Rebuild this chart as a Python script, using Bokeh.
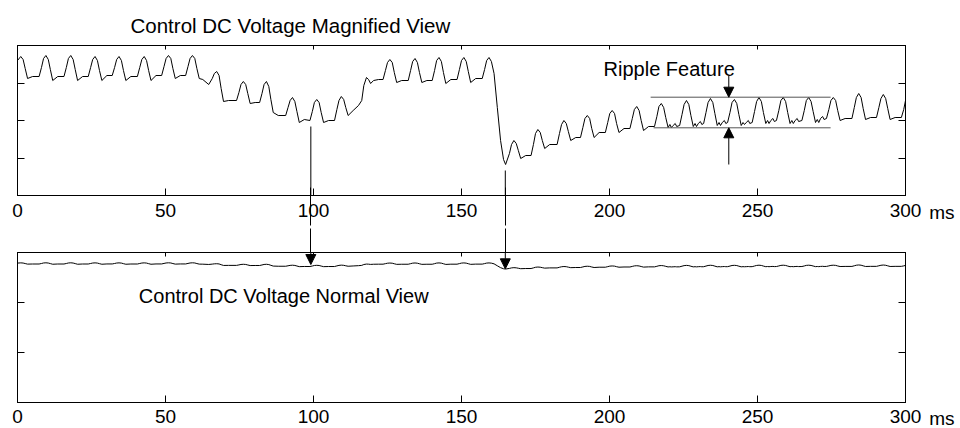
import numpy as np
from bokeh.plotting import figure
from bokeh.layouts import column
from bokeh.models import (Range1d, LinearAxis, FixedTicker, Arrow, NormalHead,
                          Label, ColumnDataSource, CustomJSTickFormatter)
from bokeh.embed import file_html
from bokeh.resources import INLINE

# ---------------- data ----------------
# time (ms) and control DC voltage (V) of the magnified trace, one ripple cycle per line
t_ms = [
    0.0, 1.1, 1.9, 2.6, 3.4, 5.1,
    7.3, 8.1, 8.8, 9.6, 10.4, 11.1, 11.9, 13.6,
    15.7, 16.5, 17.2, 18.0, 18.8, 19.5, 20.3, 22.0,
    23.9, 24.7, 25.4, 26.2, 27.0, 27.7, 28.5, 30.2,
    32.0, 32.8, 33.5, 34.3, 35.1, 35.8, 36.6, 38.3,
    40.5, 41.3, 42.0, 42.8, 43.6, 44.3, 45.1, 46.8,
    48.7, 49.5, 50.2, 51.0, 51.8, 52.5, 53.3, 55.0,
    56.8, 57.6, 58.3, 59.1, 59.9, 60.6, 61.4, 62.6, 64.6,
    65.8, 66.5, 67.3, 68.1, 68.8, 69.6, 71.3,
    74.0, 74.8, 75.5, 76.3, 77.1, 77.8, 78.6, 80.3,
    81.8, 82.6, 83.3, 84.1, 84.9, 85.6, 86.4, 88.1,
    90.6, 91.4, 92.1, 92.9, 93.7, 94.4, 95.2, 96.9,
    98.8, 99.6, 100.3, 101.1, 101.9, 102.6, 103.4, 105.1,
    107.1, 107.9, 108.6, 109.4, 110.2, 110.9, 111.7, 113.4, 115.2,
    116.3, 117.0, 117.9, 118.6, 119.3, 120.3, 122.0,
    123.5, 124.3, 125.0, 125.8, 126.6, 127.3, 128.1, 129.8,
    132.0, 132.8, 133.5, 134.3, 135.1, 135.8, 136.6, 138.3,
    140.1, 140.9, 141.6, 142.4, 143.2, 143.9, 144.7, 146.4,
    148.5, 149.3, 150.0, 150.8, 151.6, 152.3, 153.1, 154.8,
    157.0, 157.8, 158.5, 159.3, 160.1, 161.0, 162.1, 163.2, 164.2, 164.9,
    166.2, 166.9, 167.7, 168.5, 169.2, 170.0, 171.7,
    173.5, 174.3, 175.0, 175.8, 176.6, 177.3, 178.1, 179.8,
    182.3, 183.1, 183.8, 184.6, 185.4, 186.1, 186.9, 188.6,
    190.2, 191.0, 191.7, 192.5, 193.3, 194.0, 194.8, 196.5,
    198.6, 199.4, 200.1, 200.9, 201.7, 202.4, 203.2, 204.9,
    206.9, 207.7, 208.4, 209.2, 210.0, 210.7, 211.5, 213.2,
    215.2, 216.0, 216.7, 217.5, 218.3, 219.0, 219.8, 220.4, 220.9, 221.5, 222.2, 222.7,
    223.7, 224.5, 225.2, 226.0, 226.8, 227.5, 228.3, 228.9, 229.4, 230.0, 230.7, 231.2,
    231.8, 232.6, 233.3, 234.1, 234.9, 235.6, 236.4, 237.0, 237.5, 238.1, 238.8, 239.3,
    239.9, 240.7, 241.4, 242.2, 243.0, 243.7, 244.5, 245.1, 245.6, 246.2, 246.9, 247.4,
    248.2, 249.0, 249.7, 250.5, 251.3, 252.0, 252.8, 253.4, 253.9, 254.5, 255.2, 255.7,
    256.4, 257.2, 257.9, 258.7, 259.5, 260.2, 261.0, 261.6, 262.1, 262.7, 263.4, 263.9,
    265.0, 265.8, 266.5, 267.3, 268.1, 268.8, 269.6, 270.2, 270.7, 271.3, 272.0, 272.5,
    273.3, 274.1, 274.8, 275.6, 276.4, 277.1, 277.9, 279.6,
    281.9, 282.7, 283.4, 284.2, 285.0, 285.7, 286.5, 288.2,
    290.2, 291.0, 291.7, 292.5, 293.3, 294.0, 294.8, 296.5,
    298.6, 299.4, 300.0,
]
v_dc = [
    28.35, 28.39, 28.36, 28.27, 28.17, 28.19,
    28.19, 28.28, 28.37, 28.40, 28.36, 28.26, 28.15, 28.19,
    28.19, 28.28, 28.37, 28.40, 28.36, 28.26, 28.15, 28.19,
    28.19, 28.28, 28.36, 28.39, 28.35, 28.25, 28.15, 28.20,
    28.20, 28.28, 28.36, 28.39, 28.35, 28.25, 28.15, 28.19,
    28.19, 28.28, 28.36, 28.39, 28.35, 28.25, 28.15, 28.20,
    28.20, 28.29, 28.37, 28.40, 28.37, 28.27, 28.17, 28.20,
    28.20, 28.29, 28.37, 28.40, 28.37, 28.27, 28.17, 28.16, 28.11,
    28.17, 28.22, 28.24, 28.20, 28.07, 27.94, 27.95,
    27.95, 28.03, 28.11, 28.14, 28.11, 28.02, 27.92, 27.93,
    27.93, 28.02, 28.11, 28.14, 28.09, 27.96, 27.83, 27.80,
    27.80, 27.88, 27.95, 27.98, 27.94, 27.84, 27.73, 27.76,
    27.75, 27.84, 27.93, 27.96, 27.93, 27.83, 27.73, 27.75,
    27.75, 27.86, 27.95, 27.99, 27.96, 27.88, 27.80, 27.85, 27.90,
    27.95, 28.10, 28.18, 28.16, 28.12, 28.15, 28.16,
    28.16, 28.25, 28.33, 28.36, 28.33, 28.23, 28.13, 28.15,
    28.15, 28.25, 28.34, 28.37, 28.33, 28.23, 28.13, 28.15,
    28.15, 28.25, 28.35, 28.38, 28.34, 28.23, 28.12, 28.16,
    28.16, 28.26, 28.35, 28.38, 28.34, 28.24, 28.13, 28.17,
    28.17, 28.26, 28.35, 28.38, 28.34, 28.22, 27.88, 27.55, 27.36, 27.31,
    27.42, 27.51, 27.55, 27.52, 27.45, 27.37, 27.40,
    27.40, 27.51, 27.62, 27.66, 27.63, 27.55, 27.47, 27.51,
    27.51, 27.62, 27.71, 27.75, 27.72, 27.64, 27.55, 27.58,
    27.58, 27.68, 27.77, 27.80, 27.77, 27.67, 27.58, 27.63,
    27.63, 27.73, 27.82, 27.85, 27.82, 27.72, 27.63, 27.67,
    27.67, 27.77, 27.86, 27.89, 27.85, 27.75, 27.65, 27.69,
    27.69, 27.79, 27.89, 27.92, 27.88, 27.78, 27.68, 27.71, 27.68, 27.70, 27.72, 27.69,
    27.70, 27.81, 27.91, 27.95, 27.91, 27.80, 27.69, 27.72, 27.69, 27.72, 27.74, 27.71,
    27.72, 27.83, 27.93, 27.97, 27.93, 27.82, 27.70, 27.73, 27.70, 27.73, 27.75, 27.72,
    27.73, 27.83, 27.93, 27.96, 27.92, 27.81, 27.70, 27.73, 27.71, 27.73, 27.75, 27.72,
    27.73, 27.84, 27.94, 27.98, 27.94, 27.83, 27.72, 27.75, 27.72, 27.75, 27.77, 27.74,
    27.75, 27.85, 27.95, 27.98, 27.94, 27.83, 27.72, 27.75, 27.72, 27.75, 27.77, 27.74,
    27.75, 27.85, 27.95, 27.98, 27.94, 27.84, 27.73, 27.76, 27.73, 27.77, 27.79, 27.76,
    27.77, 27.86, 27.95, 27.98, 27.95, 27.85, 27.75, 27.77,
    27.77, 27.88, 27.98, 28.02, 27.98, 27.87, 27.76, 27.78,
    27.78, 27.88, 27.97, 28.01, 27.97, 27.87, 27.76, 27.78,
    27.78, 27.86, 27.95,
]

x_ticks = [0, 50, 100, 150, 200, 250, 300]
x_unit = "ms"
title_mag = "Control DC Voltage Magnified View"
title_norm = "Control DC Voltage Normal View"
ripple_text = "Ripple Feature"

# ripple band marker lines (ms, V)
band_t0 = [213.9, 214.9]
band_t1 = [274.7, 274.7]
band_v = [27.983, 27.677]
# ripple arrows (ms, start V -> tip V)
rip_t = [240.3, 240.3]
rip_v0 = [28.20, 27.31]
rip_v1 = [27.983, 27.677]
# links from magnified view down to the normal view (ms)
link_t = [99.1, 164.8]
link_v_top = [27.69, 27.25]      # start on magnified view
link_v_tip = [28.10, 27.35]      # tip on normal view

FONT = "Liberation Sans"
TICK_FS = "19px"
TEXT_FS = "20px"
NOLABEL = dict(major_label_text_font_size="0px", major_label_standoff=0)


def hidden_axis(ticks, tick_in, minor=None, minor_in=0, minor_out=0):
    ax = LinearAxis(ticker=FixedTicker(ticks=ticks, minor_ticks=minor or []),
                    major_tick_in=tick_in, major_tick_out=0,
                    minor_tick_in=minor_in, minor_tick_out=minor_out,
                    formatter=CustomJSTickFormatter(code="return ''"), **NOLABEL)
    if minor:
        ax.minor_tick_line_color = "black"
        ax.minor_tick_line_width = 1
    else:
        ax.minor_tick_line_color = None
    if not ticks:
        ax.major_tick_line_color = None
        ax.axis_line_color = None
    return ax


def style(p, y_ticks, standoff, above_link_out=0):
    p.outline_line_color = "black"
    p.outline_line_width = 1
    p.xgrid.visible = False
    p.ygrid.visible = False
    p.background_fill_color = "white"
    p.border_fill_color = "white"
    bx = p.xaxis[0]
    bx.ticker = FixedTicker(ticks=x_ticks)
    bx.major_tick_in = 7
    bx.major_tick_out = 0
    bx.minor_tick_line_color = None
    bx.axis_line_color = "black"
    bx.major_label_text_font = FONT
    bx.major_label_text_font_size = TICK_FS
    bx.major_label_text_color = "black"
    bx.major_label_standoff = standoff
    p.add_layout(hidden_axis(x_ticks, 4, link_t if above_link_out else None,
                             0, above_link_out), "above")
    ly = p.yaxis[0]
    ly.ticker = FixedTicker(ticks=y_ticks)
    ly.major_tick_in = 7
    ly.major_tick_out = 0
    ly.minor_tick_line_color = None
    ly.major_label_text_font_size = "0px"
    ly.major_label_standoff = 0
    ly.formatter = CustomJSTickFormatter(code="return ''")
    p.add_layout(hidden_axis(y_ticks, 7), "right")


def text(p, s, x, y):
    p.add_layout(Label(x=x, y=y, text=s, text_font=FONT, text_font_size=TEXT_FS,
                       text_color="black", text_align="left", text_baseline="middle"))


def unit(p, y):
    p.add_layout(Label(x=308.0, y=y, text=x_unit, text_font=FONT, text_font_size=TICK_FS,
                       text_color="black", text_align="left", text_baseline="middle"),
                 "right")


trace = ColumnDataSource(dict(t=t_ms, v=v_dc))

# ---------------- magnified view ----------------
ymin1, ymax1 = 27.0, 28.5
p1 = figure(width=960, height=228, output_backend="svg", toolbar_location=None,
            x_range=Range1d(0, 300), y_range=Range1d(ymin1, ymax1),
            min_border_left=17, min_border_right=55, min_border_top=45, min_border_bottom=33)
p1.title.text = title_mag
p1.title.text_font = FONT
p1.title.text_font_size = "20.5px"
p1.title.text_font_style = "normal"
p1.title.text_color = "black"
p1.title.align = "left"
p1.title.offset = 113
p1.title.standoff = 17
style(p1, list(np.linspace(ymin1, ymax1, 5)), 8)
# outer axis whose inward minor ticks carry the link lines across the tick-label band
p1.add_layout(hidden_axis([], 0, link_t, 32, 6), "below")
p1.line("t", "v", source=trace, line_color="black", line_width=1)
p1.segment(x0=band_t0, y0=band_v, x1=band_t1, y1=band_v, line_color="#555555", line_width=1)
p1.add_layout(Arrow(end=NormalHead(size=10, fill_color="black", line_color="black"),
                    source=ColumnDataSource(dict(x0=rip_t, y0=rip_v0, x1=rip_t, y1=rip_v1)),
                    x_start="x0", y_start="y0", x_end="x1", y_end="y1",
                    line_color="black", line_width=1))
p1.add_layout(Arrow(end=None,
                    source=ColumnDataSource(dict(x0=link_t, y0=link_v_top, x1=link_t,
                                                 y1=[26.9, 26.9])),
                    x_start="x0", y_start="y0", x_end="x1", y_end="y1",
                    line_color="black", line_width=1))
text(p1, ripple_text, 198.0, 28.27)
unit(p1, 26.83)

# ---------------- normal view ----------------
ymin2, ymax2 = 4.0, 30.2
p2 = figure(width=960, height=200, output_backend="svg", toolbar_location=None,
            x_range=Range1d(0, 300), y_range=Range1d(ymin2, ymax2),
            min_border_left=17, min_border_right=55, min_border_top=24, min_border_bottom=26)
style(p2, list(np.linspace(ymin2, ymax2, 4)), 7, above_link_out=24)
p2.line("t", "v", source=trace, line_color="black", line_width=1)
p2.add_layout(Arrow(end=NormalHead(size=10, fill_color="black", line_color="black"),
                    source=ColumnDataSource(dict(x0=link_t, y0=[31.0, 31.0], x1=link_t,
                                                 y1=link_v_tip)),
                    x_start="x0", y_start="y0", x_end="x1", y_end="y1",
                    line_color="black", line_width=1))
text(p2, title_norm, 41.0, 22.67)
unit(p2, 1.23)

layout = column(p1, p2, spacing=0)
open("out.html", "w").write(file_html(layout, INLINE))
